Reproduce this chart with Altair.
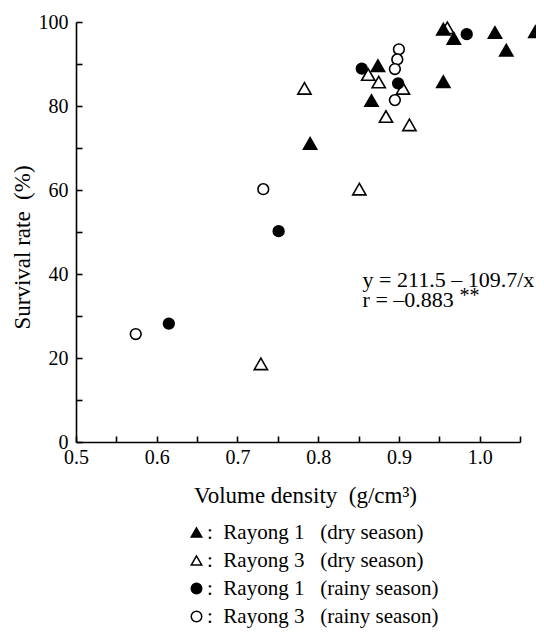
import altair as alt
import pandas as pd

FONT = "Liberation Serif"

# ---- data ----
groups = [
    ":\u00a0\u00a0Rayong 1\u00a0\u00a0\u00a0(dry season)",
    ":\u00a0\u00a0Rayong 3\u00a0\u00a0\u00a0(dry season)",
    ":\u00a0\u00a0Rayong 1\u00a0\u00a0\u00a0(rainy season)",
    ":\u00a0\u00a0Rayong 3\u00a0\u00a0\u00a0(rainy season)",
]
shapes = ["triangle-up", "triangle-up", "circle", "circle"]
fills = ["black", "white", "black", "white"]
strokes = ["black", "black", "black", "black"]

dry3_x = [0.960, 0.862, 0.875, 0.905, 0.884, 0.913, 0.783, 0.851, 0.729]
dry3_y = [98.6, 87.5, 85.7, 84.2, 77.5, 75.5, 84.2, 60.2, 18.6]
rainy3_x = [0.900, 0.898, 0.895, 0.895, 0.732, 0.574]
rainy3_y = [93.5, 91.1, 88.8, 81.4, 60.2, 25.7]
dry1_x = [0.955, 0.968, 1.019, 1.033, 1.069, 0.874, 0.866, 0.955, 0.790]
dry1_y = [98.3, 96.1, 97.5, 93.3, 97.7, 89.6, 81.3, 85.8, 71.1]
rainy1_x = [0.854, 0.899, 0.984, 0.751, 0.615]
rainy1_y = [88.9, 85.4, 97.1, 50.2, 28.2]

x_tick_values = [0.5, 0.55, 0.6, 0.65, 0.7, 0.75, 0.8, 0.85, 0.9, 0.95, 1.0, 1.05]
y_tick_values = [0, 10, 20, 30, 40, 50, 60, 70, 80, 90, 100]

eq_lines = ["y = 211.5 \u2013 109.7/x", "r = \u20130.883"]
eq_x = [0.855, 0.855]
eq_y = [36.9, 32.2]
sup_text = ["**"]

rows = []
for g, xs, ys in [(groups[1], dry3_x, dry3_y), (groups[3], rainy3_x, rainy3_y),
                  (groups[0], dry1_x, dry1_y), (groups[2], rainy1_x, rainy1_y)]:
    for a, b in zip(xs, ys):
        rows.append({"x": a, "y": b, "group": g})
pts = pd.DataFrame(rows)

xscale = alt.Scale(domain=[0.5, 1.05], nice=False, zero=False)
yscale = alt.Scale(domain=[0, 100], nice=False)

legend = alt.Legend(orient="none", legendX=110, legendY=500, direction="vertical", title=None,
                    labelFont=FONT, labelFontSize=21, labelColor="black",
                    labelLimit=400, labelOffset=0, rowPadding=6,
                    symbolStrokeColor="black", symbolStrokeWidth=1.5, symbolSize=110)

points = alt.Chart(pts).mark_point(filled=True, strokeWidth=1.6, opacity=1).encode(
    x=alt.X("x:Q", scale=xscale, axis=alt.Axis(
        values=x_tick_values,
        labelExpr="datum.value <= 1.0 && abs(datum.value * 10 - round(datum.value * 10)) < 0.001 ? format(datum.value, '.1f') : ''",
        ticks=True, tickSize={"expr": "-6"}, tickWidth=1.6, tickColor="black", grid=False,
        domain=True, domainColor="black", domainWidth=1.6,
        labelFont=FONT, labelFontSize=20, labelColor="black", labelPadding=11, labelFlush=False,
        title="Volume density\u00a0\u00a0(g/cm\u00b3)", titleFont=FONT, titleFontSize=23,
        titleFontWeight="normal", titleColor="black", titleX=229, titleY=53,
        titleBaseline="middle")),
    y=alt.Y("y:Q", scale=yscale, axis=alt.Axis(
        values=y_tick_values,
        labelExpr="datum.value % 20 == 0 ? datum.label : ''",
        ticks=True, tickSize={"expr": "-6"}, tickWidth=1.6, tickColor="black", grid=False,
        domain=True, domainColor="black", domainWidth=1.6,
        labelFont=FONT, labelFontSize=20, labelColor="black", labelPadding=14, labelFlush=False,
        title="Survival rate\u00a0\u00a0(%)", titleFont=FONT, titleFontSize=23,
        titleFontWeight="normal", titleColor="black", titleX=-54, titleY=225,
        titleBaseline="middle")),
    shape=alt.Shape("group:N", scale=alt.Scale(domain=groups, range=shapes), legend=legend),
    fill=alt.Fill("group:N", scale=alt.Scale(domain=groups, range=fills), legend=legend),
    stroke=alt.Stroke("group:N", scale=alt.Scale(domain=groups, range=strokes), legend=legend),
    size=alt.condition("indexof(datum.group, 'dry') >= 0", alt.value(175), alt.value(115)),
)

eq_df = pd.DataFrame({"x": eq_x, "y": eq_y, "t": eq_lines})
eq = alt.Chart(eq_df).mark_text(font=FONT, fontSize=22, align="left", baseline="alphabetic",
                                color="black").encode(
    x=alt.X("x:Q", scale=xscale),
    y=alt.Y("y:Q", scale=yscale),
    text="t:N",
)

sup_df = pd.DataFrame({"x": [eq_x[1]], "y": [eq_y[1]], "t": sup_text})
sup = alt.Chart(sup_df).mark_text(font=FONT, fontSize=20, align="left", baseline="alphabetic",
                                  color="black", dx=97, dy=-5).encode(
    x=alt.X("x:Q", scale=xscale),
    y=alt.Y("y:Q", scale=yscale),
    text="t:N",
)

chart = alt.layer(points, eq, sup).properties(
    width=444, height=420,
    autosize=alt.AutoSizeParams(type="none"),
    padding={"left": 68, "top": 14, "right": 16, "bottom": 186},
).configure_view(strokeWidth=0)

chart.save("out.html", embed_options={"renderer": "svg", "actions": False})
